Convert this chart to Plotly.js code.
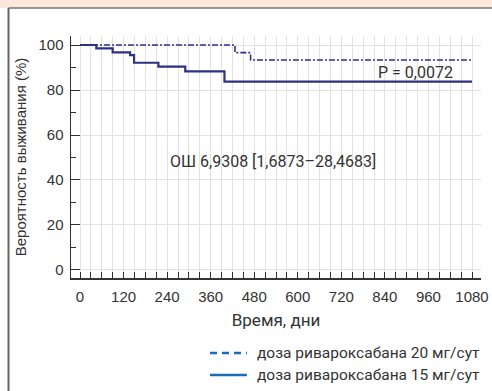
<!DOCTYPE html>
<html>
<head>
<meta charset="utf-8">
<script src="https://cdn.plot.ly/plotly-3.0.1.min.js"></script>
<style>
html,body{margin:0;padding:0;background:#fff;}
#chart{width:492px;height:391px;}
</style>
</head>
<body>
<div id="chart"></div>
<script>
// Data
const days15 = [0, 45, 90, 138, 149, 216, 290, 398, 1080];
const surv15 = [100, 98.5, 96.7, 95.5, 92.1, 90.4, 88.3, 83.7, 83.7];
const days20 = [0, 427, 470, 1080];
const surv20 = [100, 96.6, 93.3, 93.3];
const xTickVals = [0, 120, 240, 360, 480, 600, 720, 840, 960, 1080];
const yTickVals = [0, 20, 40, 60, 80, 100];
const legendNames = ["доза ривароксабана 20 мг/сут", "доза ривароксабана 15 мг/сут"];
const pText = "P = 0,0072";
const orText = "ОШ 6,9308 [1,6873–28,4683]";

const curveColor = "#2e3183";
const legendColor = "#1a6db5";
const textFont = "Roboto, 'Noto Sans', sans-serif";
const tickFont = "'Liberation Sans', Arial, sans-serif";

const traces = [
  {x: days20, y: surv20, mode: "lines", name: legendNames[0], line: {shape: "hv", color: curveColor, width: 1.6, dash: "6px,2px,2px,2px"}, showlegend: false, hoverinfo: "skip"},
  {x: days15, y: surv15, mode: "lines", name: legendNames[1], line: {shape: "hv", color: curveColor, width: 2.2}, showlegend: false, hoverinfo: "skip"}
];

// legend drawn as keys + labels below the plot (paper coordinates)
const legendKeyX = [0.339, 0.429];
const legendRowsY = [-0.31, -0.401];
const legendDash = ["7px,5px", "solid"];

const legendShapes = legendRowsY.map((yy, i) => ({
  type: "line", xref: "paper", yref: "paper", x0: legendKeyX[0], x1: legendKeyX[1], y0: yy, y1: yy,
  line: {color: legendColor, width: 2.5, dash: legendDash[i]}
}));
const legendLabels = legendRowsY.map((yy, i) => ({
  xref: "paper", yref: "paper", x: 0.449, y: yy, xanchor: "left", yanchor: "middle", showarrow: false,
  text: legendNames[i], font: {family: textFont, size: 15.5, color: "#333"}
}));

const layout = {
  width: 492, height: 391,
  margin: {l: 71, r: 11, t: 36, b: 113},
  paper_bgcolor: "#fff", plot_bgcolor: "#fff",
  showlegend: false,
  xaxis: {
    range: [-24.8, 1104.8], tickvals: xTickVals, ticktext: xTickVals.map(String),
    ticks: "inside", ticklen: 6, tickcolor: "#333", tickwidth: 1,
    showline: true, linecolor: "#333", linewidth: 1.5,
    showgrid: true, gridcolor: "#e2e2e2", gridwidth: 1, zeroline: false,
    minor: {dtick: 30, tick0: 0, ticks: "inside", ticklen: 6, tickcolor: "#333", showgrid: true, gridcolor: "#e2e2e2"},
    tickfont: {family: tickFont, size: 15, color: "#333"},
    ticklabelstandoff: 4,
    title: {text: "Время, дни", font: {family: textFont, size: 17, color: "#333"}, standoff: 10},
    fixedrange: true
  },
  yaxis: {
    range: [-3.56, 104], tickvals: yTickVals, ticktext: yTickVals.map(String),
    ticks: "inside", ticklen: 9, tickcolor: "#333", tickwidth: 1,
    showline: true, linecolor: "#333", linewidth: 1.5,
    showgrid: true, gridcolor: "#e2e2e2", gridwidth: 1, zeroline: false,
    minor: {dtick: 10, tick0: 0, ticks: "inside", ticklen: 5, tickcolor: "#333", showgrid: false},
    tickfont: {family: tickFont, size: 15, color: "#333"},
    ticklabelstandoff: 3,
    title: {text: "Вероятность выживания (%)", font: {family: tickFont, size: 15, color: "#333"}, standoff: 8},
    fixedrange: true
  },
  annotations: [
    {x: 925, y: 88, xref: "x", yref: "y", text: pText, showarrow: false, xanchor: "center", yanchor: "middle",
     font: {family: textFont, size: 16, color: "#333"}},
    {x: 532, y: 48, xref: "x", yref: "y", text: orText, showarrow: false, xanchor: "center", yanchor: "middle",
     font: {family: textFont, size: 16, color: "#333"}}
  ].concat(legendLabels),
  shapes: [
    {type: "rect", xref: "paper", yref: "paper", x0: -0.2, x1: 1.05, y0: 1.1157, y1: 1.16, fillcolor: "#fde6da", line: {width: 0}, layer: "below"},
    {type: "line", xref: "paper", yref: "paper", x0: -0.1524, x1: 1.05, y0: 1.1157, y1: 1.1157, line: {color: "#777", width: 1.5}},
    {type: "line", xref: "paper", yref: "paper", x0: -0.1524, x1: -0.1524, y0: 1.1157, y1: -0.47, line: {color: "#666", width: 2}}
  ].concat(legendShapes)
};

Plotly.newPlot("chart", traces, layout, {staticPlot: true, displayModeBar: false});
</script>
</body>
</html>
